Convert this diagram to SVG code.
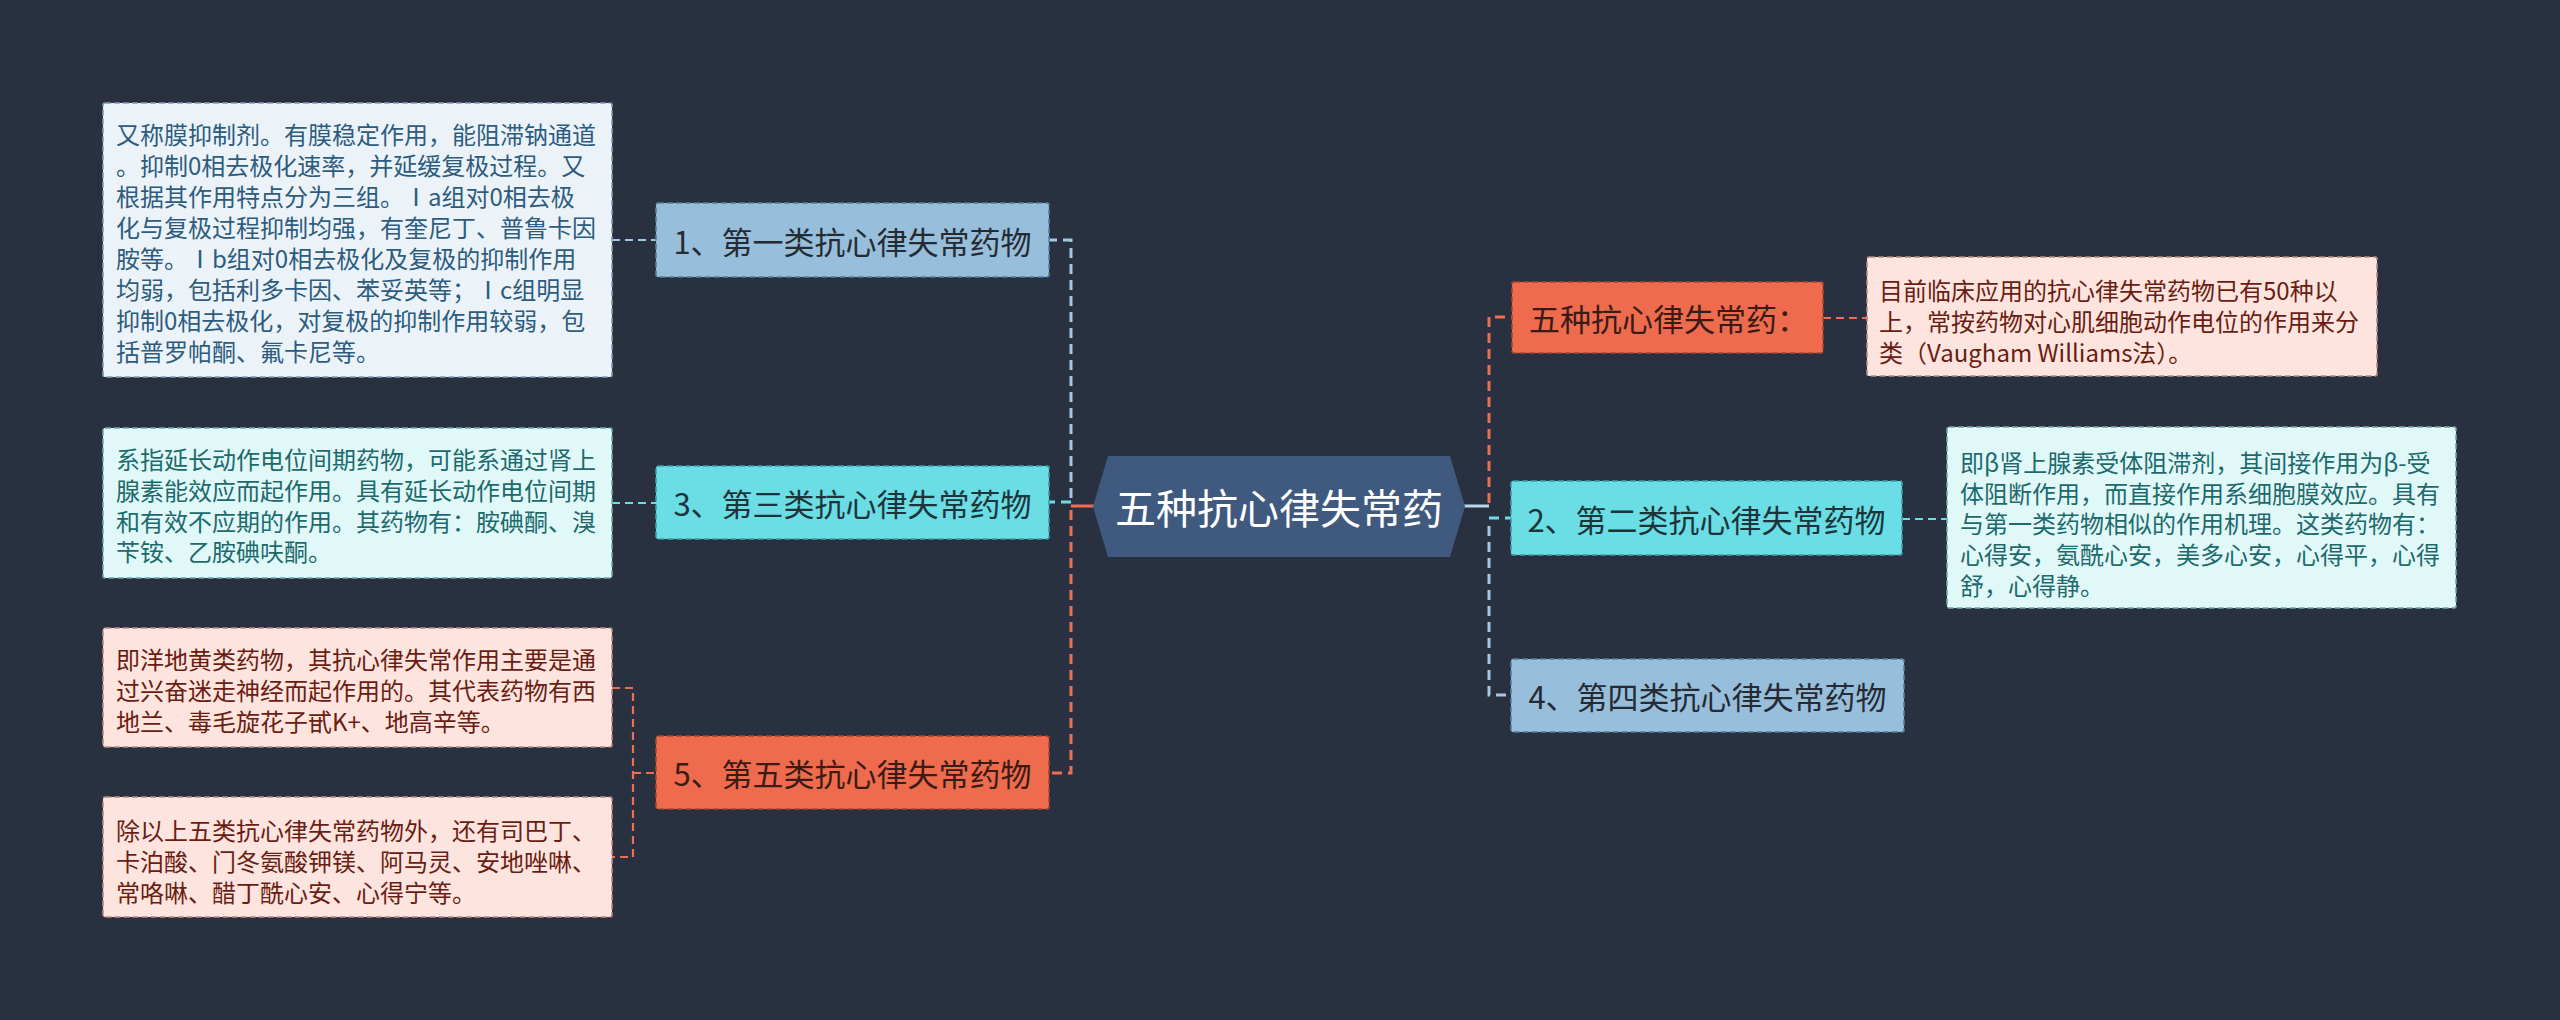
<svg xmlns="http://www.w3.org/2000/svg" width="2560" height="1020" viewBox="0 0 2560 1020">
<style>
text{font-family:"Noto Sans CJK SC","Microsoft YaHei",sans-serif;dominant-baseline:central}
.box{stroke-width:1.6;stroke-dasharray:6 3}
.nb{fill:#97bfdb;stroke:#557f9e}
.nc{fill:#6adde5;stroke:#3a9fa8}
.no{fill:#ee6b4e;stroke:#a9452f}
.lb{fill:#ebf3f9;stroke:#7f9db4}
.lc{fill:#e1f8f9;stroke:#6fa9ad}
.lo{fill:#fde4de;stroke:#b98a80}
.tn{font-size:31px;text-anchor:middle}
.tnb{fill:#262b33}
.tnc{fill:#1c353a}
.tno{fill:#3a1b15}
.tl{font-size:24px}
.tlb{fill:#2d5c7e}
.tlc{fill:#1c6a6c}
.tlo{fill:#6a1d12}
.c{fill:none;stroke-width:3;stroke-dasharray:10 6}
.cl{fill:none;stroke-width:2.2;stroke-dasharray:8 5}
.sb{stroke:#a3c8e2}
.sc{stroke:#6adde5}
.so{stroke:#ec6f52}
</style>
<rect width="2560" height="1020" fill="#293141"/>
<g id="connectors">
<line x1="1071" y1="506" x2="1094" y2="506" stroke="#ec6f52" stroke-width="3"/>
<path class="c sb" d="M1071,498 V240 H1049"/>
<path class="c sc" d="M1071,502 H1049"/>
<path class="c so" d="M1071,510 V773 H1049"/>
<path class="cl sb" d="M612,240 H656"/>
<path class="cl sc" d="M612,503 H656"/>
<path class="cl so" d="M612,688 H633 V857 H612"/>
<path class="cl so" d="M633,773 H656"/>
<line x1="1464" y1="506" x2="1489" y2="506" stroke="#b9d6ea" stroke-width="3"/>
<path class="c so" d="M1489,503 V317 H1512"/>
<path class="c sc" d="M1489,518 H1511"/>
<path class="c sb" d="M1489,526 V695 H1511"/>
<path class="cl so" d="M1823,318 H1867"/>
<path class="cl sc" d="M1902,519 H1947"/>
</g>
<g id="center">
<polygon points="1093,506.5 1108,456 1450,456 1465,506.5 1450,557 1108,557" fill="#3f5a7e"/>
<text x="1279" y="506" font-size="41" fill="#ffffff" text-anchor="middle">五种抗心律失常药</text>
</g>
<g id="n1">
<rect class="box nb" x="656" y="203" width="393" height="74" rx="2"/>
<text class="tn tnb" x="852.5" y="240">1、第一类抗心律失常药物</text>
</g>
<g id="n3">
<rect class="box nc" x="656" y="466" width="393" height="73" rx="2"/>
<text class="tn tnc" x="852.5" y="502.5">3、第三类抗心律失常药物</text>
</g>
<g id="n5">
<rect class="box no" x="656" y="736" width="393" height="73" rx="2"/>
<text class="tn tno" x="852.5" y="772.5">5、第五类抗心律失常药物</text>
</g>
<g id="n0">
<rect class="box no" x="1512" y="282" width="311" height="71" rx="2"/>
<text class="tno" x="1529" y="317.5" font-size="31">五种抗心律失常药：</text>
</g>
<g id="n2">
<rect class="box nc" x="1511" y="481" width="391" height="74" rx="2"/>
<text class="tn tnc" x="1706.5" y="518">2、第二类抗心律失常药物</text>
</g>
<g id="n4">
<rect class="box nb" x="1511" y="659" width="393" height="73" rx="2"/>
<text class="tn tnb" x="1707.5" y="695.5">4、第四类抗心律失常药物</text>
</g>
<g id="l1">
<rect class="box lb" x="103" y="103" width="509" height="274" rx="2"/>
<text class="tl tlb">
<tspan x="116" y="133">又称膜抑制剂。有膜稳定作用，能阻滞钠通道</tspan>
<tspan x="116" y="164">。抑制0相去极化速率，并延缓复极过程。又</tspan>
<tspan x="116" y="195">根据其作用特点分为三组。Ⅰa组对0相去极</tspan>
<tspan x="116" y="226">化与复极过程抑制均强，有奎尼丁、普鲁卡因</tspan>
<tspan x="116" y="257">胺等。Ⅰb组对0相去极化及复极的抑制作用</tspan>
<tspan x="116" y="288">均弱，包括利多卡因、苯妥英等；Ⅰc组明显</tspan>
<tspan x="116" y="319">抑制0相去极化，对复极的抑制作用较弱，包</tspan>
<tspan x="116" y="350">括普罗帕酮、氟卡尼等。</tspan>
</text>
</g>
<g id="l3">
<rect class="box lc" x="103" y="428" width="509" height="150" rx="2"/>
<text class="tl tlc">
<tspan x="116" y="458">系指延长动作电位间期药物，可能系通过肾上</tspan>
<tspan x="116" y="489">腺素能效应而起作用。具有延长动作电位间期</tspan>
<tspan x="116" y="520">和有效不应期的作用。其药物有：胺碘酮、溴</tspan>
<tspan x="116" y="550">苄铵、乙胺碘呋酮。</tspan>
</text>
</g>
<g id="l5a">
<rect class="box lo" x="103" y="628" width="509" height="119" rx="2"/>
<text class="tl tlo">
<tspan x="116" y="658">即洋地黄类药物，其抗心律失常作用主要是通</tspan>
<tspan x="116" y="689">过兴奋迷走神经而起作用的。其代表药物有西</tspan>
<tspan x="116" y="720">地兰、毒毛旋花子甙K+、地高辛等。</tspan>
</text>
</g>
<g id="l5b">
<rect class="box lo" x="103" y="797" width="509" height="120" rx="2"/>
<text class="tl tlo">
<tspan x="116" y="829">除以上五类抗心律失常药物外，还有司巴丁、</tspan>
<tspan x="116" y="860">卡泊酸、门冬氨酸钾镁、阿马灵、安地唑啉、</tspan>
<tspan x="116" y="891">常咯啉、醋丁酰心安、心得宁等。</tspan>
</text>
</g>
<g id="l0">
<rect class="box lo" x="1867" y="257" width="510" height="119" rx="2"/>
<text class="tl tlo">
<tspan x="1879" y="289">目前临床应用的抗心律失常药物已有50种以</tspan>
<tspan x="1879" y="320">上，常按药物对心肌细胞动作电位的作用来分</tspan>
<tspan x="1879" y="351">类（Vaugham Williams法）。</tspan>
</text>
</g>
<g id="l2">
<rect class="box lc" x="1947" y="427" width="509" height="181" rx="2"/>
<text class="tl tlc">
<tspan x="1960" y="461">即β肾上腺素受体阻滞剂，其间接作用为β-受</tspan>
<tspan x="1960" y="492">体阻断作用，而直接作用系细胞膜效应。具有</tspan>
<tspan x="1960" y="522">与第一类药物相似的作用机理。这类药物有：</tspan>
<tspan x="1960" y="553">心得安，氨酰心安，美多心安，心得平，心得</tspan>
<tspan x="1960" y="584">舒，心得静。</tspan>
</text>
</g>
</svg>
